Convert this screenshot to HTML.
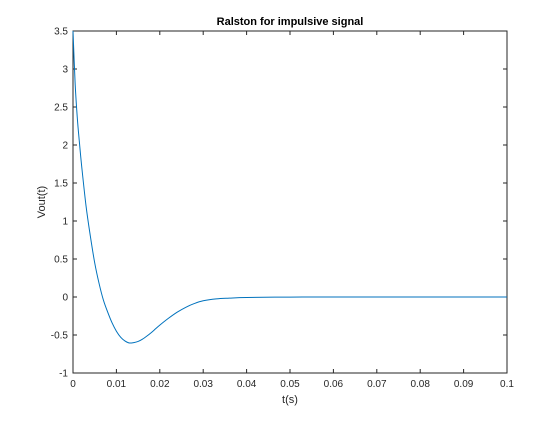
<!DOCTYPE html>
<html><head><meta charset="utf-8"><style>
body{margin:0;background:#fff;}
svg text{font-family:"Liberation Sans",sans-serif;}
</style></head><body>
<svg id="chart" width="560" height="420" xmlns="http://www.w3.org/2000/svg">
<rect width="560" height="420" fill="#fff"/>
<g id="axes"></g>
</svg>
<script>
const times = [0,0.0005,0.001,0.0015,0.002,0.003,0.004,0.005,0.006,0.007,0.008,0.009,0.010,0.011,0.012,0.013,0.014,0.015,0.016,0.017,0.018,0.019,0.020,0.022,0.024,0.026,0.028,0.030,0.033,0.036,0.040,0.050,0.060,0.080,0.100];
const vout = [3.5,2.8,2.35,2.02,1.72,1.2,0.8,0.45,0.18,-0.04,-0.2,-0.34,-0.45,-0.53,-0.58,-0.605,-0.6,-0.585,-0.555,-0.515,-0.47,-0.42,-0.37,-0.28,-0.2,-0.135,-0.085,-0.05,-0.025,-0.015,-0.006,-0.001,0,0,0];
const xTicks = [0,0.01,0.02,0.03,0.04,0.05,0.06,0.07,0.08,0.09,0.1];
const xTickLabels = ["0","0.01","0.02","0.03","0.04","0.05","0.06","0.07","0.08","0.09","0.1"];
const yTicks = [-1,-0.5,0,0.5,1,1.5,2,2.5,3,3.5];
const yTickLabels = ["-1","-0.5","0","0.5","1","1.5","2","2.5","3","3.5"];

const L=73,R=507,T=31,B=373;
const xs=v=>L+(v-0)/(0.1)*(R-L);
const ys=v=>B-(v+1)/4.5*(B-T);
const NS="http://www.w3.org/2000/svg";
const g=document.getElementById('axes');
function mk(tag,attrs,parent){const e=document.createElementNS(NS,tag);for(const k in attrs)e.setAttribute(k,attrs[k]);(parent||g).appendChild(e);return e;}

const box=mk('rect',{x:L,y:T,width:R-L,height:B-T,fill:'none',stroke:'#262626','stroke-width':1});



xTicks.forEach((v,i)=>{
  const x=xs(v);
  const t1=mk('line',{x1:x,y1:B,x2:x,y2:B-4,stroke:'#262626'});
  
  
  const t2=mk('line',{x1:x,y1:T,x2:x,y2:T+4,stroke:'#262626'});
  
  
  const tx=mk('text',{x:x,y:B+14,'font-size':10,'text-anchor':'middle',fill:'#262626'});
  tx.textContent=xTickLabels[i];
  
  
});
yTicks.forEach((v,i)=>{
  const y=ys(v);
  const t1=mk('line',{x1:L,y1:y,x2:L+4,y2:y,stroke:'#262626'});
  
  
  const t2=mk('line',{x1:R,y1:y,x2:R-4,y2:y,stroke:'#262626'});
  
  
  const tx=mk('text',{x:L-5,y:y+3.5,'font-size':10,'text-anchor':'end',fill:'#262626'});
  tx.textContent=yTickLabels[i];
  
  
});

// Catmull-Rom smoothing through data points
const P=times.map((t,i)=>[xs(t),ys(vout[i])]);
let d='M'+P[0][0].toFixed(2)+','+P[0][1].toFixed(2);
for(let i=0;i<P.length-1;i++){
  const p0=P[Math.max(i-1,0)],p1=P[i],p2=P[i+1],p3=P[Math.min(i+2,P.length-1)];
  const c1=[p1[0]+(p2[0]-p0[0])/6,p1[1]+(p2[1]-p0[1])/6];
  const c2=[p2[0]-(p3[0]-p1[0])/6,p2[1]-(p3[1]-p1[1])/6];
  d+=' C'+c1[0].toFixed(2)+','+c1[1].toFixed(2)+' '+c2[0].toFixed(2)+','+c2[1].toFixed(2)+' '+p2[0].toFixed(2)+','+p2[1].toFixed(2);
}
const line=mk('path',{d:d,fill:'none',stroke:'#0072bd','stroke-width':1,'stroke-linejoin':'round'});



const title=mk('text',{x:(L+R)/2,y:T-6,'font-size':11,'font-weight':'bold','text-anchor':'middle',fill:'#000'});
title.textContent='Ralston for impulsive signal';



const xl=mk('text',{x:(L+R)/2,y:B+30,'font-size':11,'text-anchor':'middle',fill:'#262626'});
xl.textContent='t(s)';



const yl=mk('text',{x:0,y:0,'font-size':11,'text-anchor':'middle',fill:'#262626',transform:'translate(45,'+((T+B)/2)+') rotate(-90)'});
yl.textContent='Vout(t)';


</script>
</body></html>
